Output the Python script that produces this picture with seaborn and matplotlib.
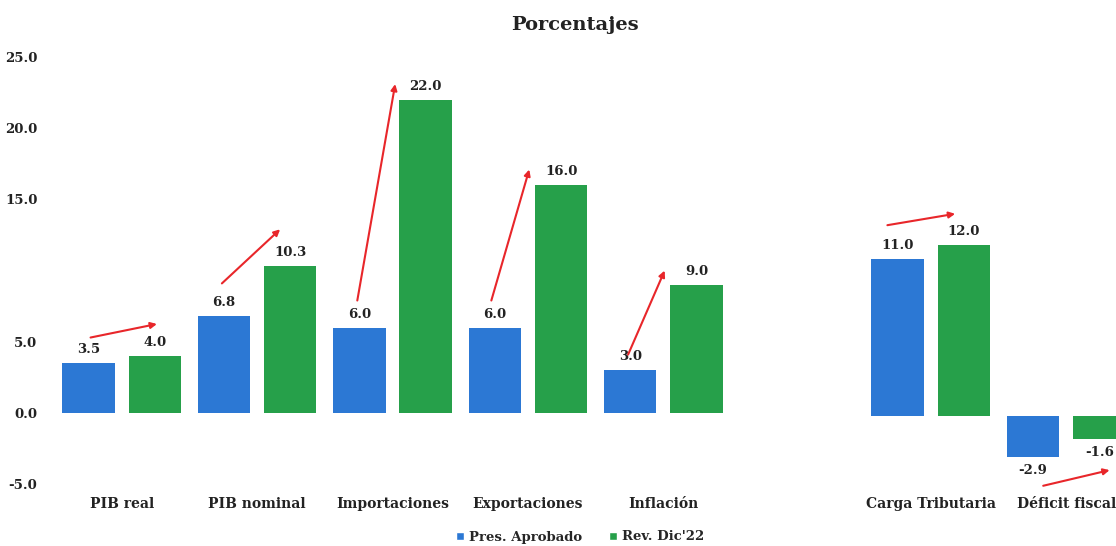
import matplotlib
matplotlib.use("Agg")
import matplotlib.pyplot as plt
import seaborn as sns
import pandas as pd
from matplotlib.patches import Patch

# ---- data ----
cats_left = ["PIB real", "PIB nominal", "Importaciones", "Exportaciones", "Inflación"]
aprobado_left = [3.5, 6.8, 6.0, 6.0, 3.0]
revision_left = [4.0, 10.3, 22.0, 16.0, 9.0]

cats_right = ["Carga Tributaria", "Déficit fiscal"]
aprobado_right = [11.0, -2.9]
revision_right = [12.0, -1.6]

series = ["Pres. Aprobado", "Rev. Dic'22"]
ytick_vals = [-5, 0, 5, 15, 20, 25]
ytick_labels = ["-5.0", "0.0", "5.0", "15.0", "20.0", "25.0"]
title = "Porcentajes"

# arrow annotations: (x_start offset, y_start, x_end offset, y_end) relative to category index
arrows_left = [(-0.23, 5.3, 0.26, 6.25), (-0.26, 9.1, 0.17, 12.9), (-0.26, 7.9, 0.02, 23.1),
               (-0.27, 7.9, 0.01, 17.1), (-0.26, 4.1, 0.01, 10.0)]
arrows_right = [(-0.32, 13.4, 0.18, 14.2), (-0.17, -4.9, 0.32, -3.8)]

blue = "#2c78d4"
green = "#26a04a"
palette = {series[0]: blue, series[1]: green}

def make_df(cats, a, r):
    return pd.DataFrame({
        "cat": cats * 2,
        "serie": [series[0]] * len(cats) + [series[1]] * len(cats),
        "val": list(a) + list(r),
    })

sns.set_theme(style="white")
plt.rcParams["font.family"] = ["DejaVu Serif"]
plt.rcParams["font.weight"] = "bold"

fig = plt.figure(figsize=(11.16, 5.46), dpi=100)
axL = fig.add_axes([54 / 1116, 0.1132, (731 - 54) / 1116, 0.7824])
axR = fig.add_axes([863 / 1116, 0.1077, (1134 - 863) / 1116, 0.7824])

for ax, cats, a, r, arrows, xpad in [(axL, cats_left, aprobado_left, revision_left, arrows_left, 9),
                                     (axR, cats_right, aprobado_right, revision_right, arrows_right, 7)]:
    df = make_df(cats, a, r)
    sns.barplot(data=df, x="cat", y="val", hue="serie", palette=palette, ax=ax,
                width=0.98, gap=0.21, legend=False, saturation=1, linewidth=0)
    for cont in ax.containers:
        ax.bar_label(cont, fmt="%.1f", padding=5, fontsize=9.5, fontweight="bold", color="#222222")
    for i, (xs, ys, xe, ye) in enumerate(arrows):
        ax.annotate("", xy=(i + xe, ye), xytext=(i + xs, ys),
                    arrowprops=dict(arrowstyle="-|>", color="#e8262a", lw=1.5,
                                    mutation_scale=9, shrinkA=0, shrinkB=0))
    ax.set_ylim(-5, 25)
    ax.set_xlim(-0.5, len(cats) - 0.5)
    ax.set_xlabel("")
    ax.set_ylabel("")
    for s in ax.spines.values():
        s.set_visible(False)
    ax.tick_params(axis="x", length=0, pad=xpad, labelsize=10)
    for t in ax.get_xticklabels():
        t.set_fontweight("bold")
        t.set_color("#222222")

axL.set_yticks(ytick_vals)
axL.set_yticklabels(ytick_labels, fontsize=9.5, fontweight="bold", color="#222222")
axL.tick_params(axis="y", length=0, pad=12)
axR.set_yticks([])

fig.text(575 / 1116, 1 - 25 / 546, title, ha="center", va="center",
         fontsize=14, fontweight="bold", color="#222222")

handles = [Patch(facecolor=blue), Patch(facecolor=green)]
fig.legend(handles, series, loc="center", bbox_to_anchor=(580 / 1116, 1 - 537 / 546),
           ncol=2, frameon=False, fontsize=9.5, handlelength=0.6, handleheight=0.6,
           handletextpad=0.4, columnspacing=2.0)

fig.savefig("out.png", dpi=100)
